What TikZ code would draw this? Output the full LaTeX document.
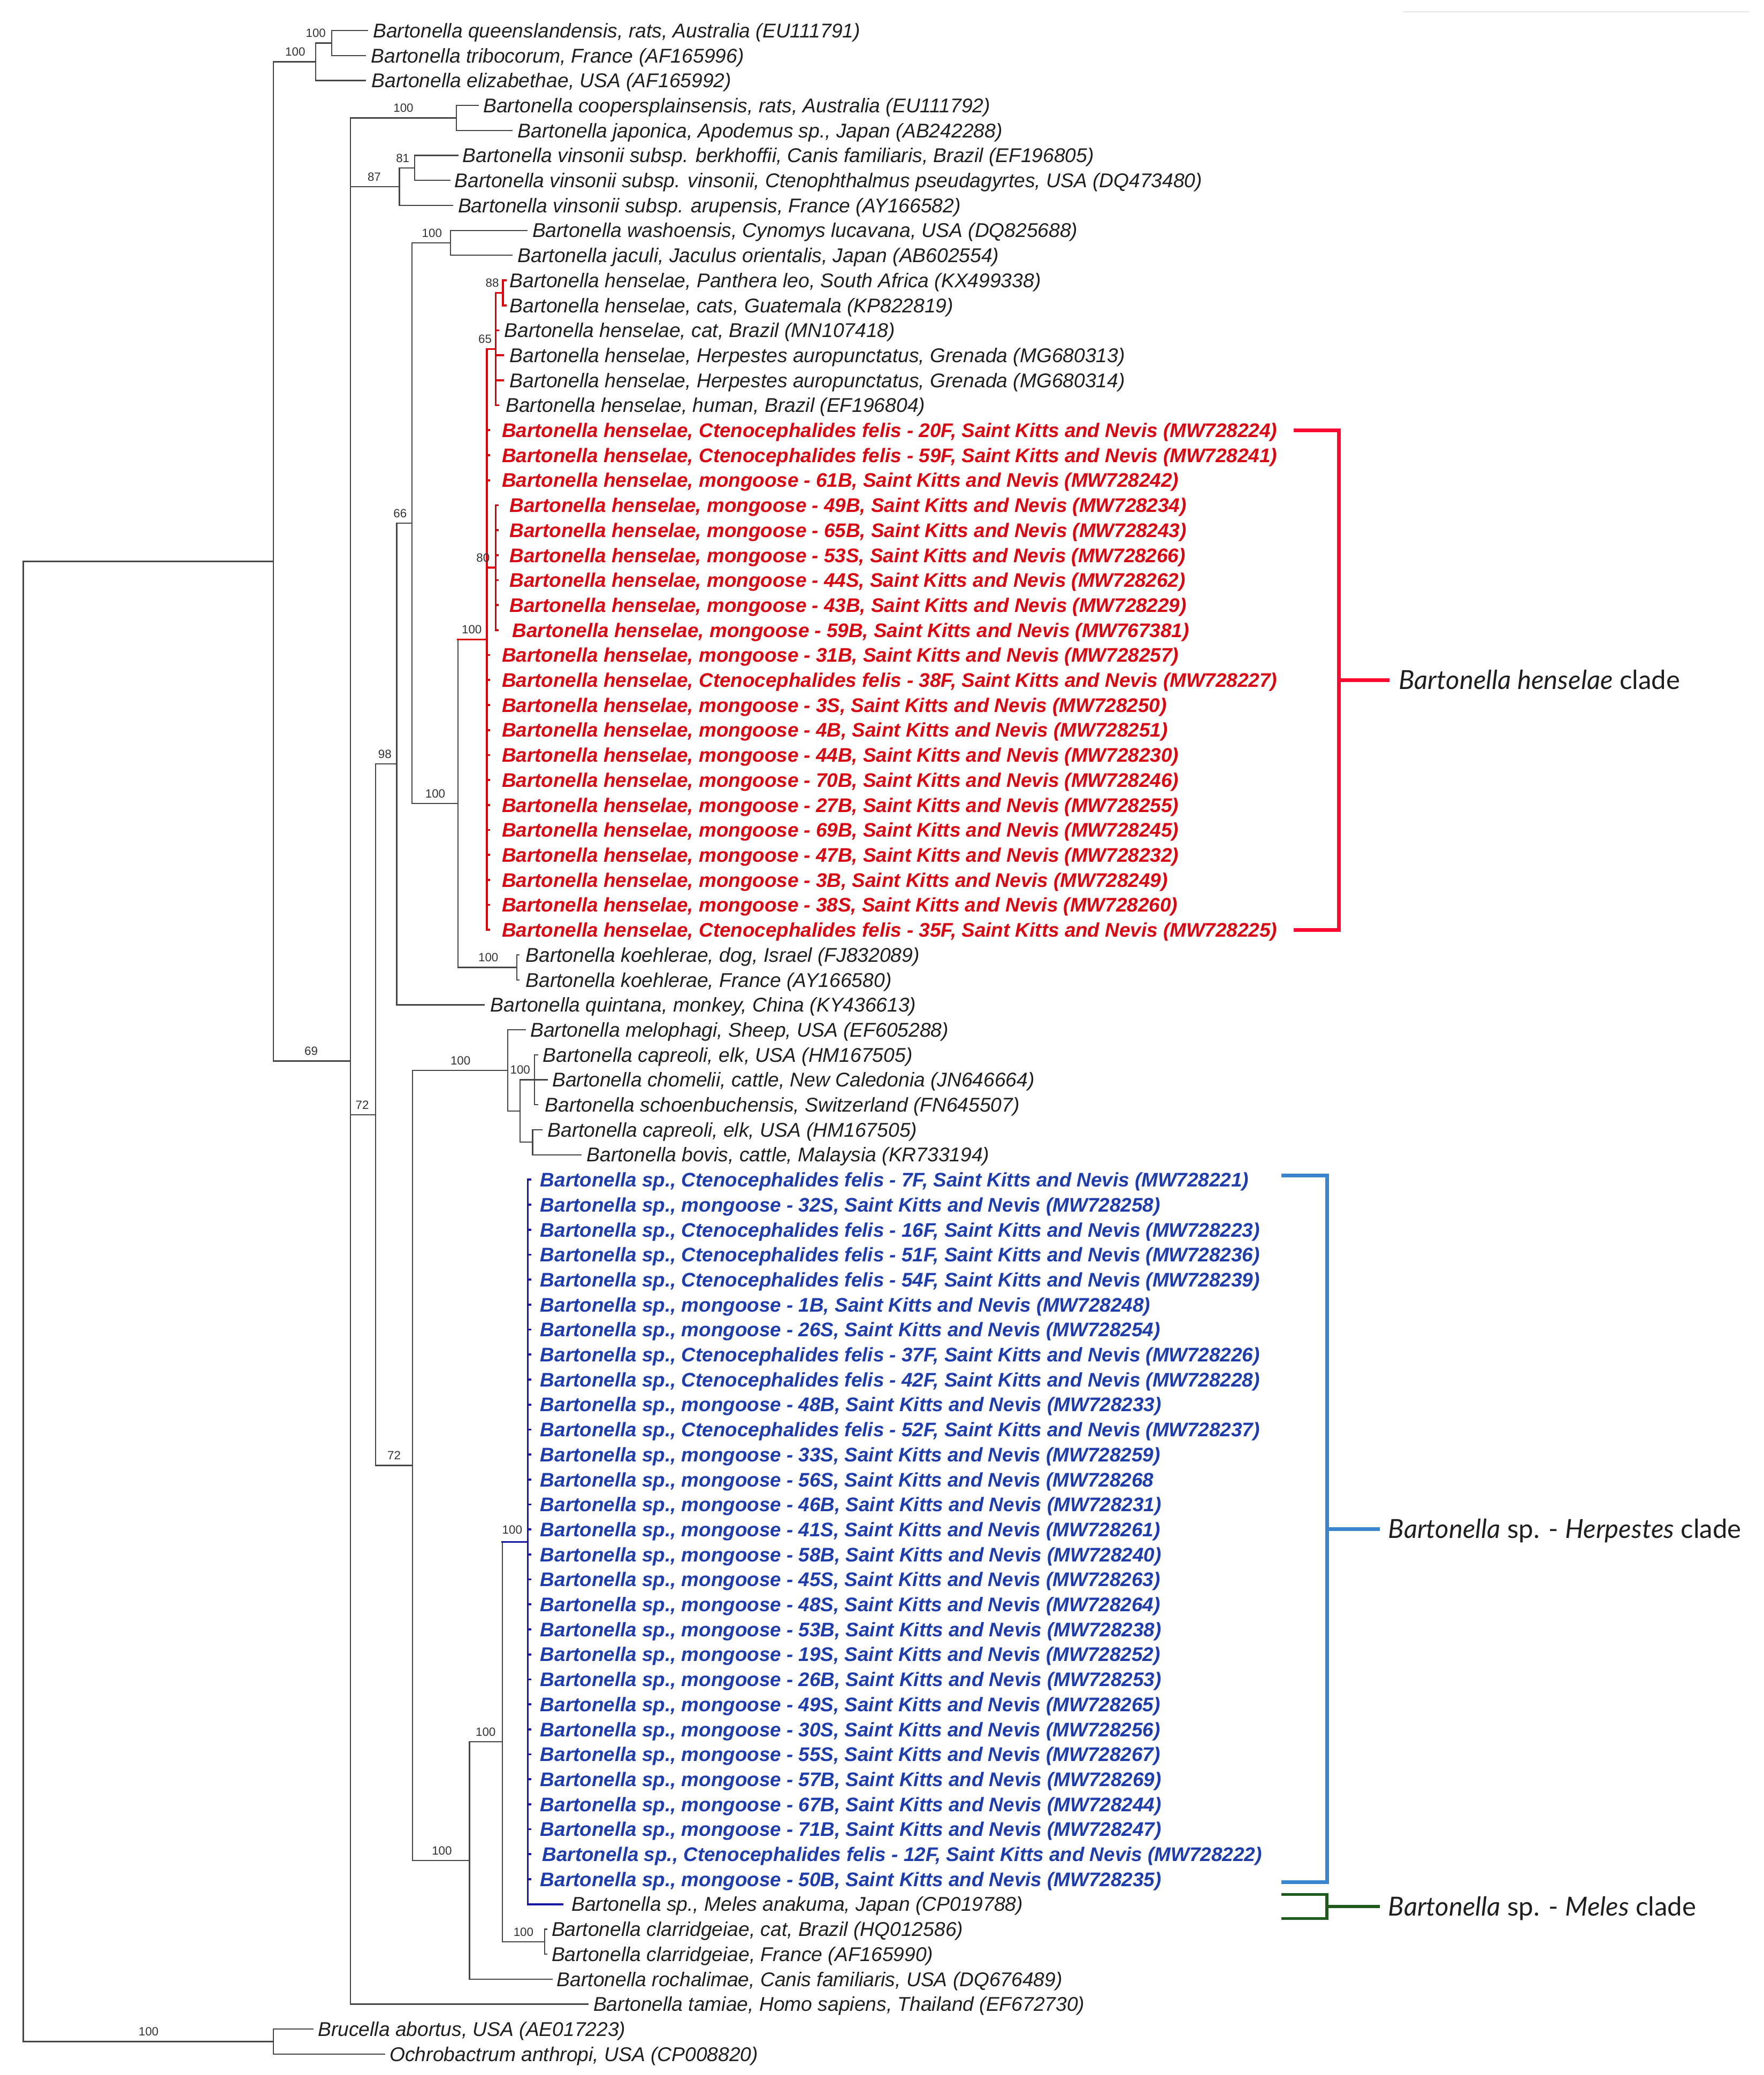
\documentclass[tikz,border=0pt]{standalone}
\usepackage{fontspec}
\setmainfont{Liberation Sans}
\newfontfamily\latofont{Lato}
\definecolor{treegray}{RGB}{70,70,70}
\definecolor{treered}{RGB}{222,0,10}
\definecolor{treeblue}{RGB}{25,25,165}
\definecolor{leafblack}{RGB}{30,30,30}
\definecolor{leafred}{RGB}{215,10,20}
\definecolor{leafblue}{RGB}{30,60,170}
\definecolor{bootgray}{RGB}{50,50,50}
\definecolor{brkred}{RGB}{255,8,50}
\definecolor{brkblue}{RGB}{58,134,206}
\definecolor{brkgreen}{RGB}{30,90,28}
\newcommand\leaffont{\fontsize{15}{18}\selectfont\itshape}
\newcommand\boldleaffont{\fontsize{14.85}{18}\selectfont\itshape\bfseries}
\newcommand\bootfont{\fontsize{9}{10}\selectfont}
\newcommand\cladefont{\latofont\fontsize{19.8}{22}\selectfont}
\tikzset{
  br/.style={draw=treegray, line width=0.9pt, line cap=rect},
  rbr/.style={draw=treered, line width=1.5pt, line cap=rect},
  bbr/.style={draw=treeblue, line width=1.5pt, line cap=rect},
  lbl/.style={anchor=west, inner sep=0pt, text height=10.7pt, text depth=0pt},
  blk/.style={lbl, text=leafblack, font=\leaffont},
  redl/.style={lbl, text=leafred, font=\boldleaffont},
  bluel/.style={lbl, text=leafblue, font=\boldleaffont},
  boot/.style={inner sep=0pt, text height=6.4pt, text depth=0pt, font=\bootfont, text=bootgray},
  brkr/.style={draw=brkred, line width=2.8pt},
  brkb/.style={draw=brkblue, line width=2.8pt},
  brkg/.style={draw=brkgreen, line width=2.2pt},
  cladelbl/.style={anchor=west, inner sep=0pt, text height=14pt, text depth=0pt, font=\cladefont, text=leafblack}
}
% leaf: #1 index, #2 parent, #3 branch style, #4 branch end x, #5 text x, #6 text style, #7 text
\newcommand\lf[7]{%
  \coordinate (e#1) at (#4,{23+(#1-1)*18.83});
  \node[#6] (t#1) at (#5,{23+(#1-1)*18.83}) {#7};
  \draw[#3] (#2|-e#1) -- (e#1);
}
% bootstrap: #1 name, #2 x, #3 branch y, #4 value
\newcommand\bs[4]{\node[boot] (#1) at (#2,{#3-7.5}) {#4};}
\begin{document}
\begin{tikzpicture}[x=1pt,y=-1pt]
\useasboundingbox (0,0) rectangle (1329,1564);
% internal nodes
\coordinate (Root) at (17.5,980.98);
\coordinate (A) at (206,423.14);
\coordinate (Out) at (206,1538.82);
\coordinate (Qn) at (238,46.54);
\coordinate (Q1) at (250,32.42);
\coordinate (B) at (264,799.74);
\coordinate (C) at (344,88.91);
\coordinate (D) at (301,140.69);
\coordinate (D1) at (312.5,126.57);
\coordinate (I) at (283,840.20);
\coordinate (T98) at (299,575.84);
\coordinate (E) at (310.5,394.31);
\coordinate (F) at (339.5,183.06);
\coordinate (H) at (345,605.55);
\coordinate (G) at (367,481.98);
\coordinate (N65) at (373.6,263.08);
\coordinate (N88) at (379,220.72);
\coordinate (N80) at (373.6,427.85);
\coordinate (K2) at (389.5,729.13);
\coordinate (J) at (311,1104.55);
\coordinate (L) at (382.7,806.80);
\coordinate (M) at (391.9,837.40);
\coordinate (N) at (402.7,813.86);
\coordinate (O) at (401.4,860.94);
\coordinate (K) at (353.8,1402.30);
\coordinate (P) at (378.5,1312.86);
\coordinate (Qb) at (397.8,1162.22);
\coordinate (R) at (410.6,1463.50);

% leaves
\lf{1}{Q1}{br}{277}{281}{blk}{Bartonella queenslandensis, rats, Australia (EU111791)}
\lf{2}{Q1}{br}{275.5}{279.5}{blk}{Bartonella tribocorum, France (AF165996)}
\lf{3}{Qn}{br}{275.5}{280}{blk}{Bartonella elizabethae, USA (AF165992)}
\lf{4}{C}{br}{360.5}{364}{blk}{Bartonella coopersplainsensis, rats, Australia (EU111792)}
\lf{5}{C}{br}{386}{390}{blk}{Bartonella japonica, Apodemus sp., Japan (AB242288)}
\lf{6}{D1}{br}{345}{348.5}{blk}{Bartonella vinsonii subsp. berkhoffii, Canis familiaris, Brazil (EF196805)}
\lf{7}{D1}{br}{339}{342.5}{blk}{Bartonella vinsonii subsp. vinsonii, Ctenophthalmus pseudagyrtes, USA (DQ473480)}
\lf{8}{D}{br}{341}{345}{blk}{Bartonella vinsonii subsp. arupensis, France (AY166582)}
\lf{9}{F}{br}{397}{401}{blk}{Bartonella washoensis, Cynomys lucavana, USA (DQ825688)}
\lf{10}{F}{br}{386}{390}{blk}{Bartonella jaculi, Jaculus orientalis, Japan (AB602554)}
\lf{11}{N88}{rbr}{381}{384}{blk}{Bartonella henselae, Panthera leo, South Africa (KX499338)}
\lf{12}{N88}{rbr}{381}{384}{blk}{Bartonella henselae, cats, Guatemala (KP822819)}
\lf{13}{N65}{rbr}{375.5}{380}{blk}{Bartonella henselae, cat, Brazil (MN107418)}
\lf{14}{N65}{rbr}{379}{384}{blk}{Bartonella henselae, Herpestes auropunctatus, Grenada (MG680313)}
\lf{15}{N65}{rbr}{379}{384}{blk}{Bartonella henselae, Herpestes auropunctatus, Grenada (MG680314)}
\lf{16}{N65}{rbr}{375.5}{381}{blk}{Bartonella henselae, human, Brazil (EF196804)}
\lf{17}{G}{rbr}{368.5}{378}{redl}{Bartonella henselae, Ctenocephalides felis - 20F, Saint Kitts and Nevis (MW728224)}
\lf{18}{G}{rbr}{368.5}{378}{redl}{Bartonella henselae, Ctenocephalides felis - 59F, Saint Kitts and Nevis (MW728241)}
\lf{19}{G}{rbr}{368.5}{378}{redl}{Bartonella henselae, mongoose - 61B, Saint Kitts and Nevis (MW728242)}
\lf{20}{N80}{rbr}{375}{384}{redl}{Bartonella henselae, mongoose - 49B, Saint Kitts and Nevis (MW728234)}
\lf{21}{N80}{rbr}{375}{384}{redl}{Bartonella henselae, mongoose - 65B, Saint Kitts and Nevis (MW728243)}
\lf{22}{N80}{rbr}{375}{384}{redl}{Bartonella henselae, mongoose - 53S, Saint Kitts and Nevis (MW728266)}
\lf{23}{N80}{rbr}{375}{384}{redl}{Bartonella henselae, mongoose - 44S, Saint Kitts and Nevis (MW728262)}
\lf{24}{N80}{rbr}{375}{384}{redl}{Bartonella henselae, mongoose - 43B, Saint Kitts and Nevis (MW728229)}
\lf{25}{N80}{rbr}{375}{386}{redl}{Bartonella henselae, mongoose - 59B, Saint Kitts and Nevis (MW767381)}
\lf{26}{G}{rbr}{368.5}{378}{redl}{Bartonella henselae, mongoose - 31B, Saint Kitts and Nevis (MW728257)}
\lf{27}{G}{rbr}{368.5}{378}{redl}{Bartonella henselae, Ctenocephalides felis - 38F, Saint Kitts and Nevis (MW728227)}
\lf{28}{G}{rbr}{368.5}{378}{redl}{Bartonella henselae, mongoose - 3S, Saint Kitts and Nevis (MW728250)}
\lf{29}{G}{rbr}{368.5}{378}{redl}{Bartonella henselae, mongoose - 4B, Saint Kitts and Nevis (MW728251)}
\lf{30}{G}{rbr}{368.5}{378}{redl}{Bartonella henselae, mongoose - 44B, Saint Kitts and Nevis (MW728230)}
\lf{31}{G}{rbr}{368.5}{378}{redl}{Bartonella henselae, mongoose - 70B, Saint Kitts and Nevis (MW728246)}
\lf{32}{G}{rbr}{368.5}{378}{redl}{Bartonella henselae, mongoose - 27B, Saint Kitts and Nevis (MW728255)}
\lf{33}{G}{rbr}{368.5}{378}{redl}{Bartonella henselae, mongoose - 69B, Saint Kitts and Nevis (MW728245)}
\lf{34}{G}{rbr}{368.5}{378}{redl}{Bartonella henselae, mongoose - 47B, Saint Kitts and Nevis (MW728232)}
\lf{35}{G}{rbr}{368.5}{378}{redl}{Bartonella henselae, mongoose - 3B, Saint Kitts and Nevis (MW728249)}
\lf{36}{G}{rbr}{368.5}{378}{redl}{Bartonella henselae, mongoose - 38S, Saint Kitts and Nevis (MW728260)}
\lf{37}{G}{rbr}{368.5}{378}{redl}{Bartonella henselae, Ctenocephalides felis - 35F, Saint Kitts and Nevis (MW728225)}
\lf{38}{K2}{br}{391}{396}{blk}{Bartonella koehlerae, dog, Israel (FJ832089)}
\lf{39}{K2}{br}{391}{396}{blk}{Bartonella koehlerae, France (AY166580)}
\lf{40}{T98}{br}{365}{369.5}{blk}{Bartonella quintana, monkey, China (KY436613)}
\lf{41}{L}{br}{396}{399.5}{blk}{Bartonella melophagi, Sheep, USA (EF605288)}
\lf{42}{N}{br}{405}{409}{blk}{Bartonella capreoli, elk, USA (HM167505)}
\lf{43}{N}{br}{412.5}{416}{blk}{Bartonella chomelii, cattle, New Caledonia (JN646664)}
\lf{44}{N}{br}{405}{410.5}{blk}{Bartonella schoenbuchensis, Switzerland (FN645507)}
\lf{45}{O}{br}{408.5}{412.5}{blk}{Bartonella capreoli, elk, USA (HM167505)}
\lf{46}{O}{br}{438}{442}{blk}{Bartonella bovis, cattle, Malaysia (KR733194)}
\lf{47}{Qb}{bbr}{399.5}{407}{bluel}{Bartonella sp., Ctenocephalides felis - 7F, Saint Kitts and Nevis (MW728221)}
\lf{48}{Qb}{bbr}{399.5}{407}{bluel}{Bartonella sp., mongoose - 32S, Saint Kitts and Nevis (MW728258)}
\lf{49}{Qb}{bbr}{399.5}{407}{bluel}{Bartonella sp., Ctenocephalides felis - 16F, Saint Kitts and Nevis (MW728223)}
\lf{50}{Qb}{bbr}{399.5}{407}{bluel}{Bartonella sp., Ctenocephalides felis - 51F, Saint Kitts and Nevis (MW728236)}
\lf{51}{Qb}{bbr}{399.5}{407}{bluel}{Bartonella sp., Ctenocephalides felis - 54F, Saint Kitts and Nevis (MW728239)}
\lf{52}{Qb}{bbr}{399.5}{407}{bluel}{Bartonella sp., mongoose - 1B, Saint Kitts and Nevis (MW728248)}
\lf{53}{Qb}{bbr}{399.5}{407}{bluel}{Bartonella sp., mongoose - 26S, Saint Kitts and Nevis (MW728254)}
\lf{54}{Qb}{bbr}{399.5}{407}{bluel}{Bartonella sp., Ctenocephalides felis - 37F, Saint Kitts and Nevis (MW728226)}
\lf{55}{Qb}{bbr}{399.5}{407}{bluel}{Bartonella sp., Ctenocephalides felis - 42F, Saint Kitts and Nevis (MW728228)}
\lf{56}{Qb}{bbr}{399.5}{407}{bluel}{Bartonella sp., mongoose - 48B, Saint Kitts and Nevis (MW728233)}
\lf{57}{Qb}{bbr}{399.5}{407}{bluel}{Bartonella sp., Ctenocephalides felis - 52F, Saint Kitts and Nevis (MW728237)}
\lf{58}{Qb}{bbr}{399.5}{407}{bluel}{Bartonella sp., mongoose - 33S, Saint Kitts and Nevis (MW728259)}
\lf{59}{Qb}{bbr}{399.5}{407}{bluel}{Bartonella sp., mongoose - 56S, Saint Kitts and Nevis (MW728268}
\lf{60}{Qb}{bbr}{399.5}{407}{bluel}{Bartonella sp., mongoose - 46B, Saint Kitts and Nevis (MW728231)}
\lf{61}{Qb}{bbr}{399.5}{407}{bluel}{Bartonella sp., mongoose - 41S, Saint Kitts and Nevis (MW728261)}
\lf{62}{Qb}{bbr}{399.5}{407}{bluel}{Bartonella sp., mongoose - 58B, Saint Kitts and Nevis (MW728240)}
\lf{63}{Qb}{bbr}{399.5}{407}{bluel}{Bartonella sp., mongoose - 45S, Saint Kitts and Nevis (MW728263)}
\lf{64}{Qb}{bbr}{399.5}{407}{bluel}{Bartonella sp., mongoose - 48S, Saint Kitts and Nevis (MW728264)}
\lf{65}{Qb}{bbr}{399.5}{407}{bluel}{Bartonella sp., mongoose - 53B, Saint Kitts and Nevis (MW728238)}
\lf{66}{Qb}{bbr}{399.5}{407}{bluel}{Bartonella sp., mongoose - 19S, Saint Kitts and Nevis (MW728252)}
\lf{67}{Qb}{bbr}{399.5}{407}{bluel}{Bartonella sp., mongoose - 26B, Saint Kitts and Nevis (MW728253)}
\lf{68}{Qb}{bbr}{399.5}{407}{bluel}{Bartonella sp., mongoose - 49S, Saint Kitts and Nevis (MW728265)}
\lf{69}{Qb}{bbr}{399.5}{407}{bluel}{Bartonella sp., mongoose - 30S, Saint Kitts and Nevis (MW728256)}
\lf{70}{Qb}{bbr}{399.5}{407}{bluel}{Bartonella sp., mongoose - 55S, Saint Kitts and Nevis (MW728267)}
\lf{71}{Qb}{bbr}{399.5}{407}{bluel}{Bartonella sp., mongoose - 57B, Saint Kitts and Nevis (MW728269)}
\lf{72}{Qb}{bbr}{399.5}{407}{bluel}{Bartonella sp., mongoose - 67B, Saint Kitts and Nevis (MW728244)}
\lf{73}{Qb}{bbr}{399.5}{407}{bluel}{Bartonella sp., mongoose - 71B, Saint Kitts and Nevis (MW728247)}
\lf{74}{Qb}{bbr}{399.5}{408.5}{bluel}{Bartonella sp., Ctenocephalides felis - 12F, Saint Kitts and Nevis (MW728222)}
\lf{75}{Qb}{bbr}{399.5}{407}{bluel}{Bartonella sp., mongoose - 50B, Saint Kitts and Nevis (MW728235)}
\lf{76}{Qb}{bbr}{424}{430.5}{blk}{Bartonella sp., Meles anakuma, Japan (CP019788)}
\lf{77}{R}{br}{412}{415.5}{blk}{Bartonella clarridgeiae, cat, Brazil (HQ012586)}
\lf{78}{R}{br}{412}{415.5}{blk}{Bartonella clarridgeiae, France (AF165990)}
\lf{79}{K}{br}{416}{419.5}{blk}{Bartonella rochalimae, Canis familiaris, USA (DQ676489)}
\lf{80}{B}{br}{443}{447}{blk}{Bartonella tamiae, Homo sapiens, Thailand (EF672730)}
\lf{81}{Out}{br}{236}{239.5}{blk}{Brucella abortus, USA (AE017223)}
\lf{82}{Out}{br}{290}{293.5}{blk}{Ochrobactrum anthropi, USA (CP008820)}

% verticals and internal branches
\draw[br] (Root|-A) -- (Root|-Out);
\draw[br] (Root|-A) -- (A);
\draw[br] (Root|-Out) -- (Out);
\draw[br] (Out|-e81) -- (Out|-e82);
\draw[br] (A|-Qn) -- (A|-B);
\draw[br] (A|-Qn) -- (Qn);
\draw[br] (A|-B) -- (B);
\draw[br] (Qn|-Q1) -- (Qn|-e3);
\draw[br] (Qn|-Q1) -- (Q1);
\draw[br] (Q1|-e1) -- (Q1|-e2);
\draw[br] (B|-C) -- (B|-e80);
\draw[br] (B|-C) -- (C);
\draw[br] (B|-D) -- (D);
\draw[br] (B|-I) -- (I);
\draw[br] (C|-e4) -- (C|-e5);
\draw[br] (D|-D1) -- (D|-e8);
\draw[br] (D|-D1) -- (D1);
\draw[br] (D1|-e6) -- (D1|-e7);
\draw[br] (I|-T98) -- (I|-J);
\draw[br] (I|-T98) -- (T98);
\draw[br] (I|-J) -- (J);
\draw[br] (T98|-E) -- (T98|-e40);
\draw[br] (T98|-E) -- (E);
\draw[br] (E|-F) -- (E|-H);
\draw[br] (E|-F) -- (F);
\draw[br] (E|-H) -- (H);
\draw[br] (F|-e9) -- (F|-e10);
\draw[br] (H|-G) -- (H|-K2);
\draw[rbr] (H|-G) -- (G);
\draw[br] (H|-K2) -- (K2);
\draw[br] (K2|-e38) -- (K2|-e39);
\draw[rbr] (G|-N65) -- (G|-e37);
\draw[rbr] (G|-N65) -- (N65);
\draw[rbr] (G|-N80) -- (N80);
\draw[rbr] (N65|-N88) -- (N65|-e16);
\draw[rbr] (N65|-N88) -- (N88);
\draw[rbr] (N88|-e11) -- (N88|-e12);
\draw[rbr] (N80|-e20) -- (N80|-e25);
\draw[br] (J|-L) -- (J|-K);
\draw[br] (J|-L) -- (L);
\draw[br] (J|-K) -- (K);
\draw[br] (L|-e41) -- (L|-M);
\draw[br] (L|-M) -- (M);
\draw[br] (M|-N) -- (M|-O);
\draw[br] (M|-N) -- (N);
\draw[br] (M|-O) -- (O);
\draw[br] (N|-e42) -- (N|-e44);
\draw[br] (O|-e45) -- (O|-e46);
\draw[br] (K|-P) -- (K|-e79);
\draw[br] (K|-P) -- (P);
\draw[br] (P|-Qb) -- (P|-R);
\draw[bbr] (P|-Qb) -- (Qb);
\draw[br] (P|-R) -- (R);
\draw[bbr] (Qb|-e47) -- (Qb|-e76);
\draw[br] (R|-e77) -- (R|-e78);

% bootstrap values
\bs{bQ1}{238}{32.42}{100}
\bs{bQn}{222.5}{46.54}{100}
\bs{bC}{304}{88.91}{100}
\bs{bD1}{303.5}{126.57}{81}
\bs{bD}{282}{140.69}{87}
\bs{bF}{325.5}{183.06}{100}
\bs{bN88}{371}{220.72}{88}
\bs{bN65}{365.5}{263.08}{65}
\bs{bN80}{364}{427.85}{80}
\bs{bG}{355.5}{481.98}{100}
\bs{bE}{301.5}{394.31}{66}
\bs{bH}{328}{605.55}{100}
\bs{bK2}{368}{729.13}{100}
\bs{bT98}{290}{575.84}{98}
\bs{bB}{234.5}{799.74}{69}
\bs{bI}{273}{840.20}{72}
\bs{bJ}{297}{1104.55}{72}
\bs{bL}{347}{806.80}{100}
\bs{bN}{392}{813.86}{100}
\bs{bK}{333}{1402.30}{100}
\bs{bP}{366}{1312.86}{100}
\bs{bQb}{386}{1160.5}{100}
\bs{bR}{394.5}{1463.50}{100}
\bs{bOut}{112}{1538.82}{100}

% clade brackets
\coordinate (hT) at (975,324.28);
\coordinate (hTV) at (1009,324.28);
\coordinate (hBV) at (1009,700.88);
\coordinate (hB) at (975,700.88);
\coordinate (hM) at (1009,512.6);
\coordinate (hMe) at (1047,512.6);
\draw[brkr] (hT) -- (hTV) -- (hBV) -- (hB);
\draw[brkr] (hM) -- (hMe);
\node[cladelbl] (hlab) at (1054,512.6) {\itshape Bartonella henselae\upshape{} clade};

\coordinate (pT) at (965.5,886);
\coordinate (pTV) at (1000,886);
\coordinate (pBV) at (1000,1418.5);
\coordinate (pB) at (965.5,1418.5);
\coordinate (pM) at (1000,1152.5);
\coordinate (pMe) at (1040,1152.5);
\draw[brkb] (pT) -- (pTV) -- (pBV) -- (pB);
\draw[brkb] (pM) -- (pMe);
\node[cladelbl] (plab) at (1046,1152.5) {\itshape Bartonella\upshape{} sp. - \itshape Herpestes\upshape{} clade};

\coordinate (mT) at (965.5,1428);
\coordinate (mTV) at (1000,1428);
\coordinate (mBV) at (1000,1446);
\coordinate (mB) at (965.5,1446);
\coordinate (mM) at (1000,1437);
\coordinate (mMe) at (1040,1437);
\draw[brkg] (mT) -- (mTV) -- (mBV) -- (mB);
\draw[brkg] (mM) -- (mMe);
\node[cladelbl] (mlab) at (1046,1437) {\itshape Bartonella\upshape{} sp. - \itshape Meles\upshape{} clade};

% faint line at top right
\coordinate (fa) at (1057,9);
\coordinate (fb) at (1318,9);
\draw[draw=black!10, line width=0.8pt] (fa) -- (fb);
\end{tikzpicture}
\end{document}
